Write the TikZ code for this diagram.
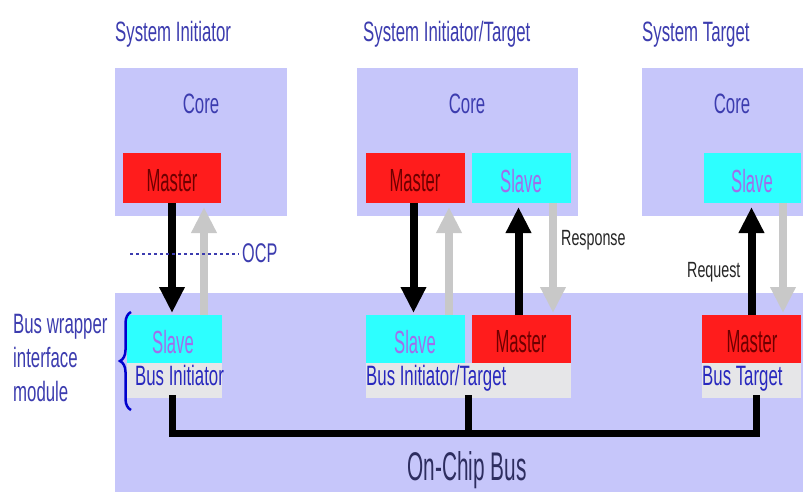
\documentclass[tikz,border=0pt]{standalone}
\usepackage{fontspec}
\setmainfont{Liberation Sans}
\newfontfamily\nf{Liberation Sans}[FakeStretch=0.6]
\newfontfamily\nfb{Liberation Sans}[FakeStretch=0.65]
\newfontfamily\nfc{Liberation Sans}[FakeStretch=0.52]
\usetikzlibrary{arrows.meta,decorations.pathreplacing,calc}
\definecolor{lav}{RGB}{198,198,250}
\definecolor{ttl}{RGB}{60,60,175}
\definecolor{mred}{RGB}{255,28,28}
\definecolor{mtxt}{RGB}{110,0,0}
\definecolor{scy}{RGB}{45,255,255}
\definecolor{stxt}{RGB}{160,110,235}
\definecolor{gry}{RGB}{230,230,232}
\definecolor{garc}{RGB}{200,200,200}
\definecolor{btxt}{RGB}{40,40,190}
\definecolor{bustxt}{RGB}{45,45,95}
\definecolor{brc}{RGB}{0,0,205}
\begin{document}
\begin{tikzpicture}[x=1pt,y=-1pt,
  box/.style={inner sep=0,outer sep=0,anchor=north west,draw=none},
  corebox/.style={box,fill=lav},
  masterbox/.style={box,fill=mred,minimum height=50},
  slavebox/.style={box,fill=scy,minimum height=50},
  bmasterbox/.style={box,fill=mred,minimum height=48},
  bslavebox/.style={box,fill=scy,minimum height=48},
  graybox/.style={box,fill=gry,minimum height=35},
  txt/.style={inner sep=0,font=\nf\fontsize{28}{30}\selectfont},
  ptxt/.style={inner sep=0,font=\nfc\fontsize{32}{34}\selectfont},
  ttltxt/.style={txt,text=ttl,anchor=base west},
  coretxt/.style={txt,text=ttl},
  mtext/.style={ptxt,text=mtxt},
  stext/.style={ptxt,text=stxt},
  bustag/.style={txt,text=btxt,anchor=base west},
  smalltxt/.style={inner sep=0,font=\nfb\fontsize{22}{24}\selectfont,text=black!85,anchor=base west},
  barr/.style={line width=8pt,-{Triangle[width=24pt,length=26pt]}},
  garr/.style={line width=8pt,draw=garc,-{Triangle[width=24pt,length=26pt]}},
  busline/.style={line width=7pt,line cap=rect,line join=miter}
]
\useasboundingbox (0,0) rectangle (803,492);
\fill[white] (0,0) rectangle (803,492);

% core boxes
\node[corebox,minimum width=172,minimum height=148] (c1) at (115,68) {};
\node[corebox,minimum width=221,minimum height=148] (c2) at (357,68) {};
\node[corebox,minimum width=161,minimum height=148] (c3) at (642,68) {};
% bottom bus area
\node[corebox,minimum width=688,minimum height=199] (bus) at (115,293) {};

% titles
\node[ttltxt] (t1) at (115,42) {System Initiator};
\node[ttltxt] (t2) at (363,42) {System Initiator/Target};
\node[ttltxt] (t3) at (642,42) {System Target};

% core labels
\node[coretxt] (k1) at (201,104) {Core};
\node[coretxt] (k2) at (467,104) {Core};
\node[coretxt] (k3) at (732,104) {Core};

% top interfaces
\node[masterbox,minimum width=98] (m1) at (123,153) {};
\node[masterbox,minimum width=99] (m2) at (366,153) {};
\node[slavebox,minimum width=99] (s2) at (472,153) {};
\node[slavebox,minimum width=97] (s3) at (704,153) {};
\node[mtext] (m1t) at (172,181) {Master};
\node[mtext] (m2t) at (415,181) {Master};
\node[stext] (s2t) at (521,181) {Slave};
\node[stext] (s3t) at (752,181) {Slave};

% bottom wrappers
\node[bslavebox,minimum width=95] (bs1) at (127,315) {};
\node[graybox,minimum width=95] (g1) at (127,363) {};
\node[bslavebox,minimum width=99] (bs2) at (366,315) {};
\node[bmasterbox,minimum width=99] (bm2) at (472,315) {};
\node[graybox,minimum width=205] (g2) at (366,363) {};
\node[bmasterbox,minimum width=99] (bm3) at (702,315) {};
\node[graybox,minimum width=99] (g3) at (702,363) {};
\node[stext] (bs1t) at (173,342) {Slave};
\node[stext] (bs2t) at (415,342) {Slave};
\node[mtext] (bm2t) at (521,342) {Master};
\node[mtext] (bm3t) at (752,342) {Master};
\node[bustag] (l1) at (135,385) {Bus Initiator};
\node[bustag] (l2) at (366,385) {Bus Initiator/Target};
\node[bustag] (l3) at (702,385) {Bus Target};

% arrows
\draw[barr,shorten >=2pt] (m1.south) -- (m1.south |- bs1.north);
\draw[garr] ([xshift=-18pt]bs1.north east) -- ([xshift=-17pt,yshift=-4pt]m1.south east);
\draw[barr,shorten >=2pt] ([xshift=-2pt]m2.south) -- ([xshift=-2pt]m2.south |- bs2.north);
\draw[garr] ([xshift=-16pt]bs2.north east) -- ([xshift=-16pt,yshift=-4pt]m2.south east);
\draw[barr,shorten >=4pt] ([xshift=-3pt]bm2.north) -- ([xshift=-3pt]bm2.north |- s2.south);
\draw[garr] ([xshift=-18pt]s2.south east) -- ([xshift=-18pt,yshift=2pt]bm2.north east);
\draw[barr,shorten >=4pt] (bm3.north) -- (bm3.north |- s3.south);
\draw[garr] ([xshift=-18pt]s3.south east) -- ([xshift=-18pt,yshift=2pt]bm3.north east);

% labels on arrows
\node[smalltxt] (resp) at (561,245) {Response};
\node[smalltxt] (req) at (687,277) {Request};

% OCP
\node[txt,text=ttl,anchor=west,font=\nf\fontsize{27}{29}\selectfont] (ocp) at (242,253) {OCP};
\coordinate (ocpstart) at (130,254);
\draw[ttl,line width=2.2pt,dash pattern=on 3pt off 3pt] (ocpstart) -- ([xshift=-3pt,yshift=-1pt]ocp.west);

% bus
\coordinate (busy) at (0,433);
\draw[busline] ([xshift=-2pt]g1.south) |- ([xshift=5pt]g3.south |- busy) -- ([xshift=5pt]g3.south);
\draw[busline] (g2.south) -- (g2.south |- busy);
\node[inner sep=0,font=\nfc\fontsize{40}{42}\selectfont,text=bustxt,anchor=base] (ocb) at (467,480) {On-Chip Bus};

% bus wrapper label + brace
\node[ttltxt] (w1) at (13,333) {Bus wrapper};
\node[ttltxt] (w2) at (13,367) {interface};
\node[ttltxt] (w3) at (13,401) {module};
\coordinate (brb) at (131,410);
\coordinate (brt) at (131,312);
\draw[brc,line width=2.5pt,decorate,decoration={brace,amplitude=11pt}] (brb) -- (brt);
\end{tikzpicture}
\end{document}
